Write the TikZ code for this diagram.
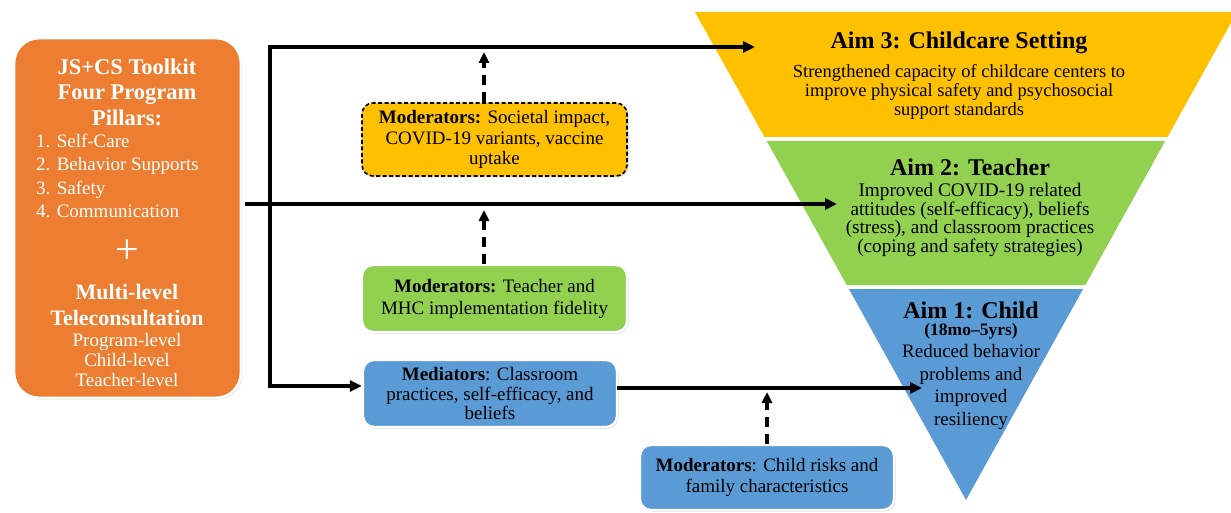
\documentclass[tikz,border=0pt]{standalone}
\usepackage{fontspec}
\setmainfont{Liberation Serif}
\usetikzlibrary{arrows.meta,shadows}
\definecolor{corange}{HTML}{ED7D31}
\definecolor{cyellow}{HTML}{FFC000}
\definecolor{cgreen}{HTML}{92D050}
\definecolor{cblue}{HTML}{5B9BD5}
\begin{document}
\begin{tikzpicture}[x=1pt,y=-1pt,
  conn/.style={line width=3.2pt, -{Triangle[length=12pt,width=11pt]}},
  plainline/.style={line width=3.2pt},
  dconn/.style={line width=3.6pt, dash pattern=on 10pt off 7pt, -{Triangle[length=11pt,width=10pt]}},
  shad/.style={drop shadow={opacity=0.3, shadow xshift=1.5pt, shadow yshift=-1.5pt}},
  modbox/.style={shad, rounded corners=11pt, draw=white, line width=2.4pt, align=center, inner sep=0pt,
     font=\fontsize{19}{20.5}\selectfont},
  txt/.style={inner sep=0pt, align=center},
  wtxt/.style={txt, text=white},
  aimtitle/.style={txt, font=\bfseries\fontsize{24}{28}\selectfont},
  aimbody/.style={txt, font=\fontsize{18.5}{19}\selectfont}
]
\useasboundingbox (0,0) rectangle (1231,513);

% ---------- inverted triangle ----------
\fill[cyellow] (695,12) -- (1237,12) -- (1167.5,137) -- (764.5,137) -- cycle;
\fill[cgreen] (766.8,141) -- (1165.2,141) -- (1085.3,285) -- (846.7,285) -- cycle;
\fill[cblue] (848.9,289) -- (1083.1,289) -- (966,500) -- cycle;

\node[aimtitle] (a3t) at (959,43) {Aim 3: Childcare Setting};
\node[aimbody] (a3b) at (959,92) {Strengthened capacity of childcare centers to\\improve physical safety and psychosocial\\support standards};
\node[aimtitle] (a2t) at (970,167) {Aim 2: Teacher};
\node[aimbody, font=\fontsize{19.2}{18.8}\selectfont] (a2b) at (970,220) {Improved COVID-19 related\\attitudes (self-efficacy), beliefs\\(stress), and classroom practices\\(coping and safety strategies)};
\node[aimtitle] (a1t) at (971,310) {Aim 1: Child};
\node[txt, font=\bfseries\fontsize{17.5}{20}\selectfont] (a1s) at (971,331) {(18mo–5yrs)};
\node[aimbody, font=\fontsize{19}{22.7}\selectfont] (a1b) at (971,387) {Reduced behavior\\problems and\\improved\\resiliency};

% ---------- left orange box ----------
\node[shad, fill=corange, draw=white, line width=2.8pt, rounded corners=25pt,
      minimum width=227pt, minimum height=360pt, inner sep=0pt] (tk) at (127.5,218) {};
\node[wtxt, font=\bfseries\fontsize{22.5}{25.5}\selectfont] (ttl) at (127,92) {JS+CS Toolkit\\Four Program\\Pillars:};
\node[wtxt, anchor=west, align=left, font=\fontsize{19}{23.3}\selectfont] (lst) at (36,176) {1. Self-Care\\2. Behavior Supports\\3. Safety\\4. Communication};
\node[wtxt, font=\fontsize{42}{42}\selectfont] (plus) at (127,252) {+};
\node[wtxt, font=\bfseries\fontsize{22}{26}\selectfont] (mlt) at (127,305) {Multi-level\\Teleconsultation};
\node[wtxt, font=\fontsize{19}{20}\selectfont] (lvl) at (127,360) {Program-level\\Child-level\\Teacher-level};

% ---------- moderator / mediator boxes ----------
\node[modbox, fill=cyellow, draw=black, line width=1.6pt, dash pattern=on 4pt off 2.5pt,
      minimum width=265pt, minimum height=73pt] (m3) at (494.5,139.5)
      {\textbf{Moderators:} Societal impact,\\COVID-19 variants, vaccine\\uptake};
\node[modbox, fill=cgreen, minimum width=265pt, minimum height=67pt,
      font=\fontsize{19}{22}\selectfont] (m2) at (494.5,298.5)
      {\textbf{Moderators:} Teacher and\\MHC implementation fidelity};
\node[modbox, fill=cblue, minimum width=254pt, minimum height=67pt,
      font=\fontsize{19}{19.5}\selectfont] (med) at (490,393.5)
      {\textbf{Mediators}: Classroom\\practices, self-efficacy, and\\beliefs};
\node[modbox, fill=cblue, minimum width=254pt, minimum height=65pt] (m1) at (767,477.5)
      {\textbf{Moderators}: Child risks and\\family characteristics};

% ---------- connectors ----------
\coordinate (vt) at (270,47);
\coordinate (vb) at (270,386);
\coordinate (t3) at (755,47);
\coordinate (ms) at (245,204);
\coordinate (t2) at (837,204);
\coordinate (ms1) at (617,388);
\coordinate (t1) at (922,388);
\coordinate (d3) at (484,52);
\coordinate (d2) at (484,210);
\coordinate (d1) at (767,392);

\draw[plainline] (vb) -- (vt);
\draw[conn] ([xshift=-1.6pt]vt) -- (t3);
\draw[conn] (ms) -- (t2);
\draw[conn] ([xshift=-1.6pt]vb) -- (med.west |- vb);
\draw[conn] (ms1) -- (t1);

\draw[dconn] (m3.north -| d3) -- (d3);
\draw[dconn] (m2.north -| d2) -- (d2);
\draw[dconn] (m1.north -| d1) -- (d1);
\end{tikzpicture}
\end{document}
